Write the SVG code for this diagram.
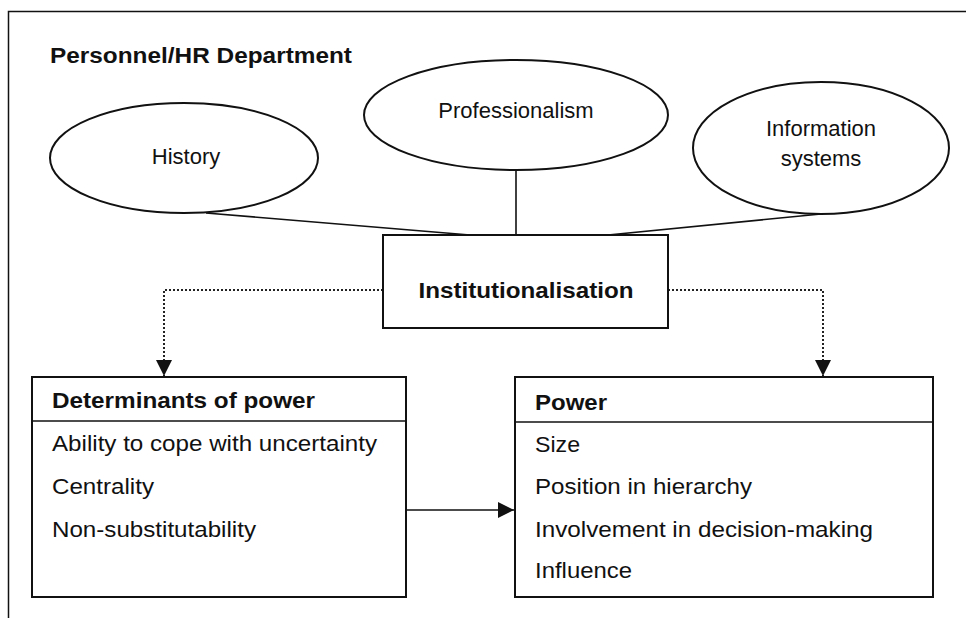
<svg xmlns="http://www.w3.org/2000/svg" width="966" height="618" viewBox="0 0 966 618">
  <style>
    .frame { fill: none; stroke: #111; stroke-width: 1.5; }
    .shape { fill: #fff; stroke: #111; stroke-width: 2; }
    .link { fill: none; stroke: #111; stroke-width: 1.6; }
    .dotted { fill: none; stroke: #222; stroke-width: 2; stroke-dasharray: 2 2; }
    text { font-family: "Liberation Sans", Arial, Helvetica, sans-serif; fill: #111; }
    .lbl { font-size: 22px; }
    .bold { font-size: 22px; font-weight: bold; }
    .mid { text-anchor: middle; }
  </style>
  <defs>
    <marker id="tri" viewBox="0 0 10 10" refX="10" refY="5" markerWidth="16" markerHeight="16" markerUnits="userSpaceOnUse" orient="auto">
      <path d="M0,0 L10,5 L0,10 Z" fill="#111"/>
    </marker>
  </defs>

  <rect width="966" height="618" fill="#fff"/>

  <!-- outer frame: left and top edges only -->
  <path class="frame" d="M8.5,618 V11.5 H966"/>
  <text class="bold" x="50" y="63" textLength="302" lengthAdjust="spacingAndGlyphs">Personnel/HR Department</text>

  <!-- connectors -->
  <g id="connectors">
    <line class="link" x1="206" y1="213" x2="470" y2="235"/>
    <line class="link" x1="516" y1="170" x2="516" y2="235"/>
    <line class="link" x1="821" y1="214" x2="608" y2="235"/>
    <path class="dotted" d="M383,290 H164 V376" marker-end="url(#tri)"/>
    <path class="dotted" d="M668,290 H823 V376" marker-end="url(#tri)"/>
    <line class="link" x1="406" y1="510" x2="514" y2="510" marker-end="url(#tri)"/>
  </g>

  <g id="history">
    <ellipse class="shape" cx="184" cy="158" rx="134" ry="55"/>
    <text class="lbl mid" x="186" y="164">History</text>
  </g>

  <g id="professionalism">
    <ellipse class="shape" cx="516" cy="115" rx="152" ry="55"/>
    <text class="lbl mid" x="516" y="118">Professionalism</text>
  </g>

  <g id="information-systems">
    <ellipse class="shape" cx="821" cy="148" rx="128" ry="66"/>
    <text class="lbl mid" x="821" y="136">Information</text>
    <text class="lbl mid" x="821" y="166">systems</text>
  </g>

  <g id="institutionalisation">
    <rect class="shape" x="383" y="235" width="285" height="93"/>
    <text class="bold mid" x="526" y="298" font-size="24" textLength="215" lengthAdjust="spacingAndGlyphs">Institutionalisation</text>
  </g>

  <g id="determinants">
    <rect class="shape" x="32" y="377" width="374" height="220"/>
    <line class="link" x1="32" y1="421" x2="406" y2="421"/>
    <text class="bold" x="52" y="408" textLength="263" lengthAdjust="spacingAndGlyphs">Determinants of power</text>
    <text class="lbl" x="52" y="451" textLength="325" lengthAdjust="spacingAndGlyphs">Ability to cope with uncertainty</text>
    <text class="lbl" x="52" y="494" textLength="102" lengthAdjust="spacingAndGlyphs">Centrality</text>
    <text class="lbl" x="52" y="537" textLength="204" lengthAdjust="spacingAndGlyphs">Non-substitutability</text>
  </g>

  <g id="power">
    <rect class="shape" x="515" y="377" width="418" height="220"/>
    <line class="link" x1="515" y1="422" x2="933" y2="422"/>
    <text class="bold" x="535" y="410" textLength="72" lengthAdjust="spacingAndGlyphs">Power</text>
    <text class="lbl" x="535" y="452" textLength="45" lengthAdjust="spacingAndGlyphs">Size</text>
    <text class="lbl" x="535" y="494" textLength="217" lengthAdjust="spacingAndGlyphs">Position in hierarchy</text>
    <text class="lbl" x="535" y="537" textLength="338" lengthAdjust="spacingAndGlyphs">Involvement in decision-making</text>
    <text class="lbl" x="535" y="578" textLength="97" lengthAdjust="spacingAndGlyphs">Influence</text>
  </g>
</svg>
